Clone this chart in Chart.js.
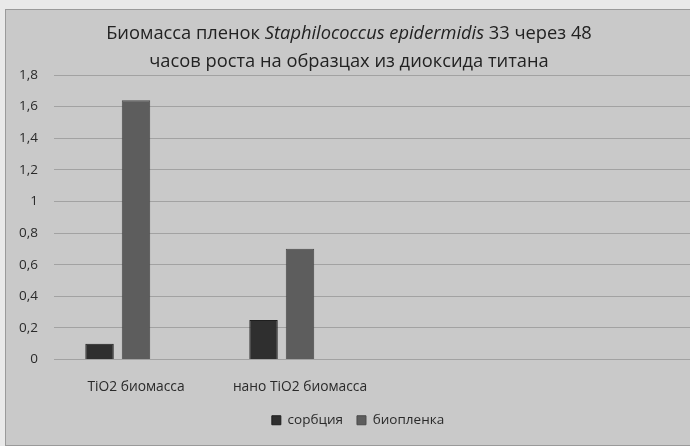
<!DOCTYPE html>
<html>
<head>
<meta charset="utf-8">
<script src="https://cdn.jsdelivr.net/npm/chart.js@4"></script>
<style>
  html, body { margin: 0; padding: 0; width: 690px; height: 446px; overflow: hidden; background: #e9e9e9; }
  #wrap { position: absolute; left: 5px; top: 9px; width: 704px; height: 437px; background: #c9c9c9; border: 1px solid #9a9a9a; box-sizing: border-box; }
  #title { position: absolute; left: 0; top: 8px; width: 686px; text-align: center; font-family: "Open Sans", sans-serif; font-size: 18.3px; line-height: 28px; color: #222222; }
  canvas { position: absolute; left: 0; top: 0; }
</style>
</head>
<body>
<div id="wrap">
  <canvas id="c" width="704" height="437"></canvas>
  <div id="title">Биомасса пленок <i>Staphilococcus epidermidis</i> 33 через 48<br>часов роста на образцах из диоксида титана</div>
</div>
<script>
const categories = ["TiO2 биомасса", "нано TiO2 биомасса", "", ""];
const sorption = [0.1, 0.25, null, null];
const biofilm = [1.64, 0.70, null, null];
const emptySeries = [null, null, null, null];
const seriesNames = ["сорбция", "биопленка"];
const yTicks = [0, 0.2, 0.4, 0.6, 0.8, 1, 1.2, 1.4, 1.6, 1.8];

const txt = '#2a2a2a';
const fam = '"Open Sans", sans-serif';
new Chart(document.getElementById('c'), {
  type: 'bar',
  data: {
    labels: categories,
    datasets: [
      { label: seriesNames[0], data: sorption, backgroundColor: '#2f2f2f', borderColor: '#1e1e1e', borderWidth: 1, categoryPercentage: 0.667, barPercentage: 0.78 },
      { label: seriesNames[1], data: biofilm, backgroundColor: '#5d5d5d', borderColor: '#4a4a4a', borderWidth: 1, categoryPercentage: 0.667, barPercentage: 0.78 },
      { label: '', data: emptySeries, backgroundColor: 'rgba(0,0,0,0)', categoryPercentage: 0.667, barPercentage: 0.78 }
    ]
  },
  options: {
    responsive: false,
    animation: false,
    layout: { padding: { top: 65, right: 0, left: 0, bottom: 10 } },
    plugins: {
      title: { display: false },
      tooltip: { enabled: false },
      legend: {
        position: 'bottom',
        labels: {
          filter: (item) => item.text !== '',
          boxWidth: 9, boxHeight: 9, padding: 14,
          color: txt,
          font: { family: fam, size: 13.5 }
        }
      }
    },
    scales: {
      x: {
        grid: { display: false, drawTicks: false },
        border: { display: false },
        ticks: { color: txt, font: { family: fam, size: 13.8 }, padding: 19, maxRotation: 0 },
        afterFit: (s) => { s.height = 40; }
      },
      y: {
        min: 0, max: 1.8,
        afterBuildTicks: (s) => { s.ticks = yTicks.map(v => ({ value: v })); },
        grid: { color: '#a2a2a2', lineWidth: 1, drawTicks: false },
        border: { display: false },
        ticks: {
          color: txt, font: { family: fam, size: 13.5 }, padding: 16,
          callback: (v) => String(v).replace('.', ',')
        },
        afterFit: (s) => { s.width = 48; }
      }
    }
  }
});
</script>
</body>
</html>
